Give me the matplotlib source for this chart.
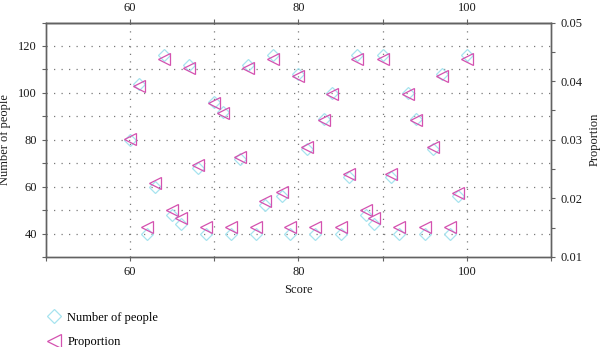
import matplotlib
matplotlib.use("Agg")
import matplotlib.pyplot as plt
from matplotlib.ticker import MultipleLocator, FixedLocator
from matplotlib.lines import Line2D

# === data ===
scores = list(range(60, 101))
people = [80, 104, 40, 60, 116, 48, 44, 112, 68, 40,
          96, 92, 40, 72, 112, 40, 52, 116, 56, 40,
          108, 76, 40, 89, 100, 40, 64, 116, 48, 44,
          116, 64, 40, 100, 89, 40, 76, 108, 40, 56,
          116]
proportion = [0.0301, 0.0392, 0.0151, 0.0226, 0.0437, 0.0180, 0.0166, 0.0422, 0.0257, 0.0151,
              0.0362, 0.0346, 0.0151, 0.0271, 0.0422, 0.0151, 0.0196, 0.0437, 0.0211, 0.0151,
              0.0408, 0.0288, 0.0151, 0.0333, 0.0378, 0.0151, 0.0241, 0.0437, 0.0180, 0.0166,
              0.0437, 0.0241, 0.0151, 0.0378, 0.0333, 0.0151, 0.0288, 0.0408, 0.0151, 0.0210,
              0.0437]
top_ticks = [60, 80, 100]

CYAN = "#a6e3ef"
PINK = "#d452b0"
SPINE = "#626262"
TXT = "#1a1a1a"

plt.rcParams["font.family"] = ["Liberation Serif", "DejaVu Serif"]
plt.rcParams["font.size"] = 9

fig = plt.figure(figsize=(6.0, 3.47), dpi=100)
ax = fig.add_axes([0.0767, 0.2594, 0.8416, 0.6756])
ax2 = ax.twinx()

ax.plot(scores, people, ls="none", marker="D", ms=6.2, mfc="none",
        mec=CYAN, mew=0.9)
ax2.plot(scores, proportion, ls="none", marker="<", ms=9, mfc="none",
         mec=PINK, mew=0.9)

ax.set_xlim(50, 110)
ax.set_ylim(30, 130)
ax2.set_ylim(0.01, 0.05)

ax.xaxis.set_major_locator(MultipleLocator(20))
ax.xaxis.set_minor_locator(MultipleLocator(10))
ax.yaxis.set_major_locator(MultipleLocator(20))
ax.yaxis.set_minor_locator(MultipleLocator(10))
ax2.yaxis.set_major_locator(MultipleLocator(0.01))
ax2.yaxis.set_minor_locator(MultipleLocator(0.005))

top = ax.secondary_xaxis("top")
top.xaxis.set_major_locator(FixedLocator(top_ticks))
top.xaxis.set_minor_locator(FixedLocator([70, 90]))

# dotted grid
for v in range(60, 101, 10):
    ax.axvline(v, color="#7a7a7a", lw=0.9, ls=(0, (1, 5)), zorder=0)
for v in range(40, 121, 10):
    ax.axhline(v, color="#7a7a7a", lw=0.9, ls=(0, (1, 5)), zorder=0)

for a in (ax, ax2, top):
    for s in a.spines.values():
        s.set_color(SPINE)
        s.set_linewidth(1.0)
    a.tick_params(which="both", direction="out", length=3, width=0.8,
                  color=SPINE, labelcolor=TXT, labelsize=9)

ax.set_xlabel("Score", color=TXT, fontsize=9, labelpad=4)
ax.set_ylabel("Number of people", color=TXT, fontsize=9, labelpad=5)
ax2.set_ylabel("Proportion", color=TXT, fontsize=9, labelpad=5)

handles = [
    Line2D([], [], ls="none", marker="D", ms=7, mfc="none", mec=CYAN, mew=0.9),
    Line2D([], [], ls="none", marker="<", ms=10, mfc="none", mec=PINK, mew=0.9),
]
fig.legend(handles, ["Number of people", "Proportion"], loc="lower left",
           bbox_to_anchor=(0.058, -0.036), frameon=False, fontsize=9,
           handletextpad=0.5, labelspacing=1.0, handlelength=1.2)

fig.savefig("out.png", dpi=100)
